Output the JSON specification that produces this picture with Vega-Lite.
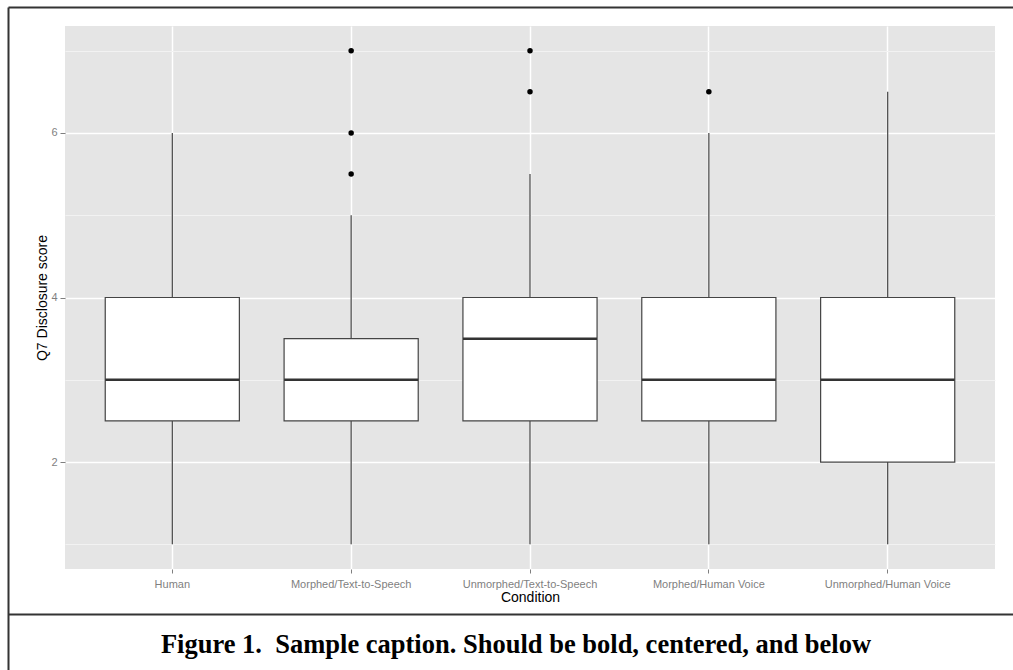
{
  "$schema": "https://vega.github.io/schema/vega-lite/v6.json",
  "autosize": {"type": "none"},
  "width": 930,
  "height": 543,
  "padding": {"left": 65, "top": 26, "right": 18, "bottom": 101},
  "background": "white",
  "datasets": {
    "stats": [
      {"condition": "Human", "lower": 1, "q1": 2.5, "median": 3, "q3": 4, "upper": 6},
      {"condition": "Morphed/Text-to-Speech", "lower": 1, "q1": 2.5, "median": 3, "q3": 3.5, "upper": 5},
      {"condition": "Unmorphed/Text-to-Speech", "lower": 1, "q1": 2.5, "median": 3.5, "q3": 4, "upper": 5.5},
      {"condition": "Morphed/Human Voice", "lower": 1, "q1": 2.5, "median": 3, "q3": 4, "upper": 6},
      {"condition": "Unmorphed/Human Voice", "lower": 1, "q1": 2, "median": 3, "q3": 4, "upper": 6.5}
    ],
    "outliers": [
      {"condition": "Morphed/Text-to-Speech", "score": 5.5},
      {"condition": "Morphed/Text-to-Speech", "score": 6},
      {"condition": "Morphed/Text-to-Speech", "score": 7},
      {"condition": "Unmorphed/Text-to-Speech", "score": 6.5},
      {"condition": "Unmorphed/Text-to-Speech", "score": 7},
      {"condition": "Morphed/Human Voice", "score": 6.5}
    ]
  },
  "title": {
    "text": "Figure 1.\u00a0 Sample caption. Should be bold, centered, and below",
    "orient": "bottom",
    "anchor": "middle",
    "frame": "group",
    "offset": -36,
    "baseline": "alphabetic",
    "dx": -14,
    "font": "Liberation Serif",
    "fontSize": 26.5,
    "fontWeight": "bold",
    "color": "#000000"
  },
  "layer": [
    {
      "encoding": {
        "x": {
          "field": "condition",
          "type": "nominal",
          "sort": null,
          "scale": {
            "domain": ["Human", "Morphed/Text-to-Speech", "Unmorphed/Text-to-Speech", "Morphed/Human Voice", "Unmorphed/Human Voice"],
            "paddingInner": 0.25,
            "paddingOuter": 0.225
          },
          "axis": {
            "title": "Condition",
            "orient": "bottom",
            "bandPosition": 0.5,
            "labelAngle": 0,
            "domain": false,
            "grid": true,
            "gridColor": "#FFFFFF",
            "gridWidth": 1.5,
            "ticks": true,
            "tickColor": "#7F7F7F",
            "tickSize": 4,
            "labelColor": "#7F7F7F",
            "labelFont": "Liberation Sans",
            "labelFontSize": 11,
            "labelPadding": 5,
            "titleFont": "Liberation Sans",
            "titleFontSize": 14,
            "titleFontWeight": "normal",
            "titleColor": "#000000",
            "titlePadding": 1
          }
        }
      },
      "layer": [
        {
          "data": {"name": "stats"},
          "mark": {"type": "rule", "color": "#444444", "strokeWidth": 1.2},
          "encoding": {
            "y": {
              "field": "lower", "type": "quantitative",
              "scale": {"domain": [0.7, 7.3], "nice": false, "zero": false},
              "axis": {
                "title": "Q7 Disclosure score",
                "values": [1, 2, 3, 4, 5, 6, 7],
                "labelExpr": "datum.value % 2 === 0 ? datum.label : ''",
                "domain": false,
                "grid": true,
                "gridColor": {"condition": {"test": "datum.value % 2 === 0", "value": "#FFFFFF"}, "value": "#F2F2F2"},
                "gridWidth": {"condition": {"test": "datum.value % 2 === 0", "value": 1.5}, "value": 1},
                "tickColor": "#7F7F7F",
                "tickOpacity": {"condition": {"test": "datum.value % 2 === 0", "value": 1}, "value": 0},
                "tickSize": 5,
                "labelColor": "#7F7F7F",
                "labelFont": "Liberation Sans",
                "labelFontSize": 11,
                "labelPadding": 3,
                "titleFont": "Liberation Sans",
                "titleFontSize": 14,
                "titleFontWeight": "normal",
                "titleColor": "#000000",
                "titlePadding": 1
              }
            },
            "y2": {"field": "upper"}
          }
        },
        {
          "data": {"name": "stats"},
          "mark": {"type": "bar", "fill": "#FFFFFF", "stroke": "#444444", "strokeWidth": 1.2},
          "encoding": {
            "y": {
              "field": "q1", "type": "quantitative",
              "scale": {"domain": [0.7, 7.3], "nice": false, "zero": false},
              "axis": {
                "title": "Q7 Disclosure score",
                "values": [1, 2, 3, 4, 5, 6, 7],
                "labelExpr": "datum.value % 2 === 0 ? datum.label : ''",
                "domain": false,
                "grid": true,
                "gridColor": {"condition": {"test": "datum.value % 2 === 0", "value": "#FFFFFF"}, "value": "#F2F2F2"},
                "gridWidth": {"condition": {"test": "datum.value % 2 === 0", "value": 1.5}, "value": 1},
                "tickColor": "#7F7F7F",
                "tickOpacity": {"condition": {"test": "datum.value % 2 === 0", "value": 1}, "value": 0},
                "tickSize": 5,
                "labelColor": "#7F7F7F",
                "labelFont": "Liberation Sans",
                "labelFontSize": 11,
                "labelPadding": 3,
                "titleFont": "Liberation Sans",
                "titleFontSize": 14,
                "titleFontWeight": "normal",
                "titleColor": "#000000",
                "titlePadding": 1
              }
            },
            "y2": {"field": "q3"}
          }
        },
        {
          "data": {"name": "stats"},
          "mark": {"type": "tick", "color": "#333333", "thickness": 2.5, "size": 134, "orient": "horizontal", "opacity": 1},
          "encoding": {
            "y": {
              "field": "median", "type": "quantitative",
              "scale": {"domain": [0.7, 7.3], "nice": false, "zero": false},
              "axis": {
                "title": "Q7 Disclosure score",
                "values": [1, 2, 3, 4, 5, 6, 7],
                "labelExpr": "datum.value % 2 === 0 ? datum.label : ''",
                "domain": false,
                "grid": true,
                "gridColor": {"condition": {"test": "datum.value % 2 === 0", "value": "#FFFFFF"}, "value": "#F2F2F2"},
                "gridWidth": {"condition": {"test": "datum.value % 2 === 0", "value": 1.5}, "value": 1},
                "tickColor": "#7F7F7F",
                "tickOpacity": {"condition": {"test": "datum.value % 2 === 0", "value": 1}, "value": 0},
                "tickSize": 5,
                "labelColor": "#7F7F7F",
                "labelFont": "Liberation Sans",
                "labelFontSize": 11,
                "labelPadding": 3,
                "titleFont": "Liberation Sans",
                "titleFontSize": 14,
                "titleFontWeight": "normal",
                "titleColor": "#000000",
                "titlePadding": 1
              }
            }
          }
        },
        {
          "data": {"name": "outliers"},
          "mark": {"type": "point", "filled": true, "color": "#000000", "opacity": 1, "size": 30},
          "encoding": {
            "y": {
              "field": "score", "type": "quantitative",
              "scale": {"domain": [0.7, 7.3], "nice": false, "zero": false},
              "axis": {
                "title": "Q7 Disclosure score",
                "values": [1, 2, 3, 4, 5, 6, 7],
                "labelExpr": "datum.value % 2 === 0 ? datum.label : ''",
                "domain": false,
                "grid": true,
                "gridColor": {"condition": {"test": "datum.value % 2 === 0", "value": "#FFFFFF"}, "value": "#F2F2F2"},
                "gridWidth": {"condition": {"test": "datum.value % 2 === 0", "value": 1.5}, "value": 1},
                "tickColor": "#7F7F7F",
                "tickOpacity": {"condition": {"test": "datum.value % 2 === 0", "value": 1}, "value": 0},
                "tickSize": 5,
                "labelColor": "#7F7F7F",
                "labelFont": "Liberation Sans",
                "labelFontSize": 11,
                "labelPadding": 3,
                "titleFont": "Liberation Sans",
                "titleFontSize": 14,
                "titleFontWeight": "normal",
                "titleColor": "#000000",
                "titlePadding": 1
              }
            }
          }
        }
      ]
    },
    {
      "data": {"values": []},
      "mark": {"type": "point", "opacity": 0},
      "encoding": {
        "x": {
          "field": "f", "type": "quantitative",
          "scale": {"domain": [0, 1], "range": [-57, 948], "nice": false, "zero": false},
          "axis": {"orient": "top", "offset": 19, "domain": true, "domainColor": "#333333", "domainWidth": 2, "ticks": false, "labels": false, "grid": false, "title": null}
        },
        "y": {
          "field": "f", "type": "quantitative",
          "scale": {"domain": [0, 1], "range": [644, -19], "nice": false, "zero": false},
          "axis": {"orient": "left", "offset": 57, "domain": true, "domainColor": "#333333", "domainWidth": 2, "ticks": false, "labels": false, "grid": false, "title": null}
        }
      }
    },
    {
      "data": {"values": []},
      "mark": {"type": "point", "opacity": 0},
      "encoding": {
        "x": {
          "field": "g", "type": "quantitative",
          "scale": {"domain": [0, 1], "range": [-57, 948], "nice": false, "zero": false},
          "axis": {"orient": "bottom", "offset": 45, "domain": true, "domainColor": "#333333", "domainWidth": 2, "ticks": false, "labels": false, "grid": false, "title": null}
        }
      }
    }
  ],
  "resolve": {
    "scale": {"x": "independent", "y": "independent"},
    "axis": {"x": "independent", "y": "independent"}
  },
  "config": {
    "view": {"fill": "#E5E5E5", "stroke": null}
  }
}
